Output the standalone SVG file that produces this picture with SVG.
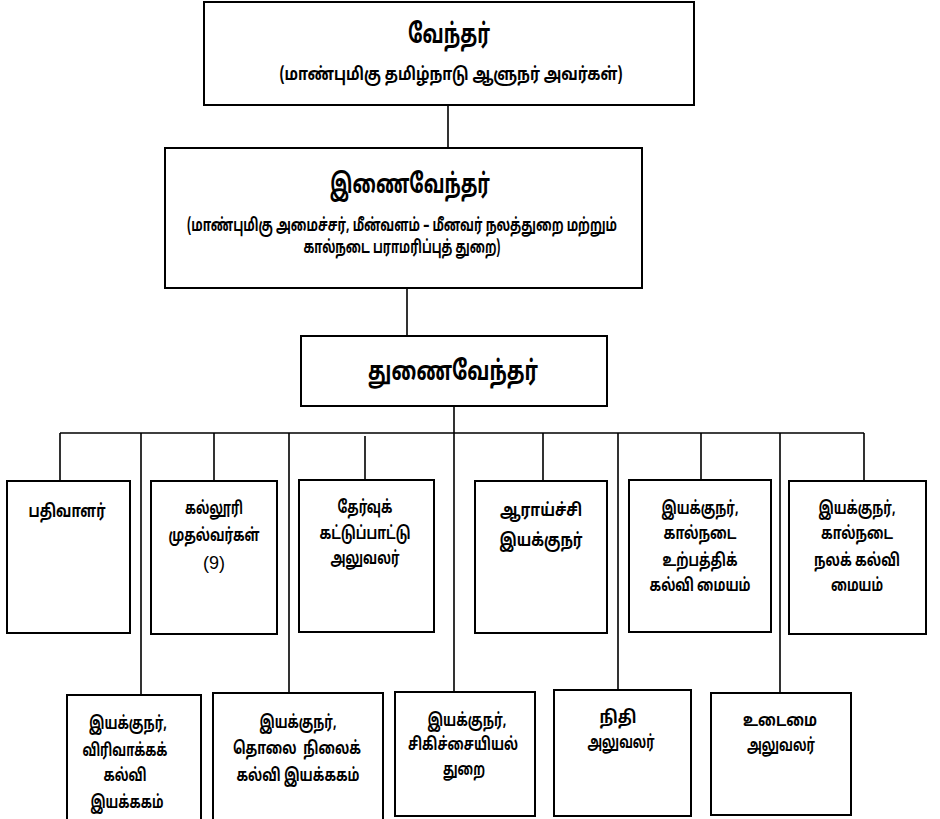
<svg xmlns="http://www.w3.org/2000/svg" width="940" height="819" viewBox="0 0 940 819">
<style>
.box{fill:#fff;stroke:#000;stroke-width:2}
.ln{stroke:#000;stroke-width:1.6;fill:none}
text{font-family:"Noto Sans Tamil","Lohit Tamil","Noto Sans","Liberation Sans",sans-serif;font-weight:bold;text-anchor:middle;fill:#000}
.t1{font-size:27px}
.t2{font-size:18px}
.t3{font-size:17.5px}
.num{font-family:"Liberation Sans",sans-serif;font-weight:normal;font-size:18px}
</style>
<rect width="940" height="819" fill="#fff"/>
<g id="connectors">
<path class="ln" d="M448 105V148M407 288V336M454 406V433M60 433H864"/>
<path class="ln" d="M60 433V481M214 433V481M365 436V480M543 433V481M701 433V480M864 433V481"/>
<path class="ln" d="M141 433V695M289 433V693M454 433V691M618 433V690M780 433V693"/>
</g>
<g id="n-vendhar">
<rect class="box" x="204" y="2" width="490" height="103"/>
<text class="t1" x="449" y="43" textLength="82" lengthAdjust="spacingAndGlyphs">வேந்தர்</text>
<text class="t2" x="451" y="80" textLength="343" lengthAdjust="spacingAndGlyphs">(மாண்புமிகு தமிழ்நாடு ஆளுநர் அவர்கள்)</text>
</g>
<g id="n-inaivendhar">
<rect class="box" x="165" y="148" width="477" height="140"/>
<text class="t1" x="410" y="193" textLength="160" lengthAdjust="spacingAndGlyphs">இணைவேந்தர்</text>
<text class="t2" x="402" y="231" textLength="430" lengthAdjust="spacingAndGlyphs">(மாண்புமிகு அமைச்சர், மீன்வளம் – மீனவர் நலத்துறை மற்றும்</text>
<text class="t2" x="402" y="253" textLength="197" lengthAdjust="spacingAndGlyphs">கால்நடை பராமரிப்புத் துறை)</text>
</g>
<g id="n-thunaivendhar">
<rect class="box" x="301" y="336" width="306" height="70"/>
<text class="t1" x="453" y="380" textLength="170" lengthAdjust="spacingAndGlyphs">துணைவேந்தர்</text>
</g>
<g id="n-pathivalar">
<rect class="box" x="7" y="481" width="123" height="152"/>
<text class="t2" x="67" y="517" textLength="77" lengthAdjust="spacingAndGlyphs">பதிவாளர்</text>
</g>
<g id="n-kalluri">
<rect class="box" x="151" y="481" width="126" height="153"/>
<text class="t3" x="214" y="514" textLength="58" lengthAdjust="spacingAndGlyphs">கல்லூரி</text>
<text class="t3" x="214" y="541" textLength="91" lengthAdjust="spacingAndGlyphs">முதல்வர்கள்</text>
<text class="num" x="214" y="569">(9)</text>
</g>
<g id="n-thervu">
<rect class="box" x="299" y="480" width="135" height="152"/>
<text class="t3" x="365" y="513" textLength="55" lengthAdjust="spacingAndGlyphs">தேர்வுக்</text>
<text class="t3" x="365" y="539" textLength="91" lengthAdjust="spacingAndGlyphs">கட்டுப்பாட்டு</text>
<text class="t3" x="365" y="564" textLength="69" lengthAdjust="spacingAndGlyphs">அலுவலர்</text>
</g>
<g id="n-araichi">
<rect class="box" x="475" y="481" width="132" height="152"/>
<text class="t2" x="541" y="516" textLength="82" lengthAdjust="spacingAndGlyphs">ஆராய்ச்சி</text>
<text class="t2" x="541" y="546" textLength="83" lengthAdjust="spacingAndGlyphs">இயக்குநர்</text>
</g>
<g id="n-urpathi">
<rect class="box" x="629" y="480" width="142" height="152"/>
<text class="t3" x="700" y="514" textLength="77" lengthAdjust="spacingAndGlyphs">இயக்குநர்,</text>
<text class="t3" x="700" y="539" textLength="73" lengthAdjust="spacingAndGlyphs">கால்நடை</text>
<text class="t3" x="700" y="566" textLength="75" lengthAdjust="spacingAndGlyphs">உற்பத்திக்</text>
<text class="t3" x="700" y="591" textLength="101" lengthAdjust="spacingAndGlyphs">கல்வி மையம்</text>
</g>
<g id="n-nalak">
<rect class="box" x="789" y="481" width="137" height="153"/>
<text class="t3" x="857" y="514" textLength="77" lengthAdjust="spacingAndGlyphs">இயக்குநர்,</text>
<text class="t3" x="857" y="539" textLength="72" lengthAdjust="spacingAndGlyphs">கால்நடை</text>
<text class="t3" x="857" y="566" textLength="86" lengthAdjust="spacingAndGlyphs">நலக் கல்வி</text>
<text class="t3" x="857" y="591" textLength="52" lengthAdjust="spacingAndGlyphs">மையம்</text>
</g>
<g id="n-viri">
<rect class="box" x="67" y="695" width="134" height="140"/>
<text class="t3" x="128" y="729" textLength="78" lengthAdjust="spacingAndGlyphs">இயக்குநர்,</text>
<text class="t3" x="125" y="756" textLength="85" lengthAdjust="spacingAndGlyphs">விரிவாக்கக்</text>
<text class="t3" x="125" y="781" textLength="43" lengthAdjust="spacingAndGlyphs">கல்வி</text>
<text class="t3" x="127" y="808" textLength="73" lengthAdjust="spacingAndGlyphs">இயக்ககம்</text>
</g>
<g id="n-tholai">
<rect class="box" x="213" y="693" width="170" height="140"/>
<text class="t3" x="298" y="728" textLength="77" lengthAdjust="spacingAndGlyphs">இயக்குநர்,</text>
<text class="t3" x="297" y="754" textLength="128" lengthAdjust="spacingAndGlyphs" xml:space="preserve">தொலை  நிலைக்</text>
<text class="t3" x="298" y="781" textLength="123" lengthAdjust="spacingAndGlyphs">கல்வி இயக்ககம்</text>
</g>
<g id="n-sikichai">
<rect class="box" x="395" y="692" width="140" height="124"/>
<text class="t3" x="467" y="726" textLength="79" lengthAdjust="spacingAndGlyphs">இயக்குநர்,</text>
<text class="t3" x="463" y="750" textLength="110" lengthAdjust="spacingAndGlyphs">சிகிச்சையியல்</text>
<text class="t3" x="464" y="775" textLength="42" lengthAdjust="spacingAndGlyphs">துறை</text>
</g>
<g id="n-nithi">
<rect class="box" x="554" y="690" width="137" height="126"/>
<text class="t3" x="618" y="723" textLength="37" lengthAdjust="spacingAndGlyphs">நிதி</text>
<text class="t3" x="621" y="748" textLength="67" lengthAdjust="spacingAndGlyphs">அலுவலர்</text>
</g>
<g id="n-udaimai">
<rect class="box" x="711" y="693" width="140" height="122"/>
<text class="t3" x="780" y="726" textLength="74" lengthAdjust="spacingAndGlyphs">உடைமை</text>
<text class="t3" x="781" y="751" textLength="68" lengthAdjust="spacingAndGlyphs">அலுவலர்</text>
</g>
</svg>
